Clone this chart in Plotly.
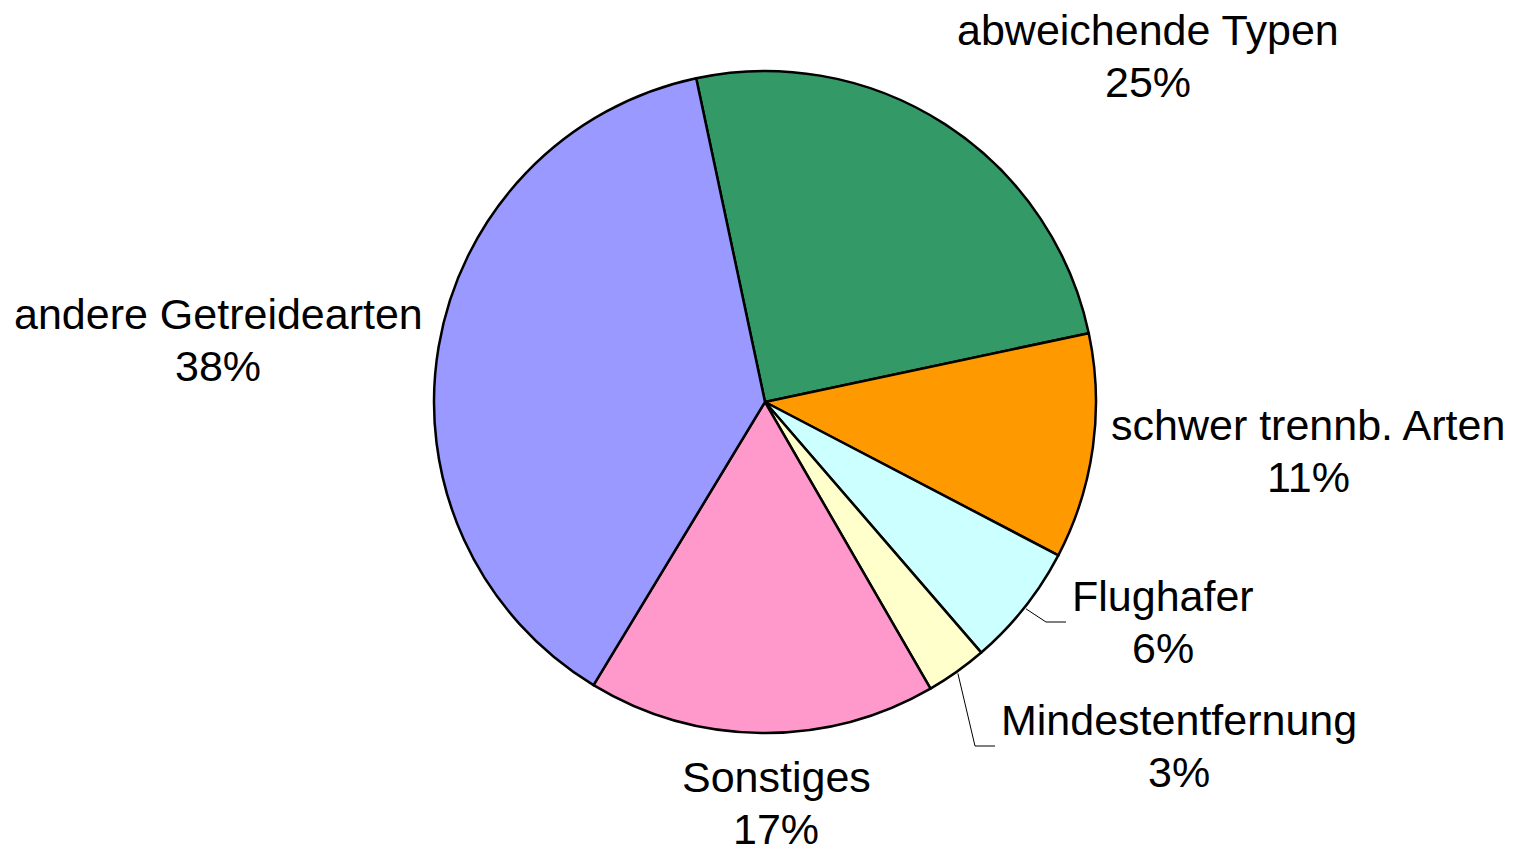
import math
import plotly.graph_objects as go

# data
labels = ["abweichende Typen", "schwer trennb. Arten", "Flughafer",
          "Mindestentfernung", "Sonstiges", "andere Getreidearten"]
values = [25, 11, 6, 3, 17, 38]
colors = ["#339966", "#FF9900", "#CCFFFF", "#FFFFCC", "#FF99CC", "#9999FF"]

W, H = 1518, 847
OFF = 8  # default page margin around the plot div
CX, CY, R = 765, 402, 331
ROT = -12  # first slice starts 12 deg left of 12 o'clock
LINE_GAP = 52

# label block centres (pixels) and optional leader end x
label_pos = {
    "abweichende Typen": (1148, 56, None),
    "schwer trennb. Arten": (1308, 451, None),
    "Flughafer": (1163, 622, 1066),
    "Mindestentfernung": (1179, 746, 995),
    "Sonstiges": (776, 803, None),
    "andere Getreidearten": (218, 340, None),
}

FW, FH = W - 2 * OFF, H - OFF


def px(x):
    return (x - OFF) / FW


def py(y):
    return 1 - (y - OFF) / FH


fig = go.Figure()
fig.add_trace(go.Pie(labels=labels, values=values, sort=False, direction="clockwise",
                     rotation=ROT, textinfo="none", hoverinfo="label+percent",
                     marker=dict(colors=colors, line=dict(color="black", width=2.5)),
                     domain=dict(x=[px(CX - R), px(CX + R)], y=[py(CY + R), py(CY - R)]),
                     showlegend=False))

total = sum(values)
cum = 0
annotations, shapes = [], []
for lab, v in zip(labels, values):
    mid = ROT + (cum + v / 2) / total * 360
    cum += v
    lx, ly, lend = label_pos[lab]
    for txt, dy in ((lab, -LINE_GAP / 2), (f"{v / total * 100:.0f}%", LINE_GAP / 2)):
        annotations.append(dict(x=px(lx), y=py(ly + dy), xref="paper", yref="paper",
                                xanchor="center", yanchor="middle", showarrow=False,
                                text=txt, font=dict(size=43, color="black")))
    if lend is not None:
        a = math.radians(mid)
        sx, sy = CX + (R + 2) * math.sin(a), CY - (R + 2) * math.cos(a)
        path = (f"M {px(sx)} {py(sy)} L {px(lend - 20)} {py(ly)} "
                f"L {px(lend)} {py(ly)}")
        shapes.append(dict(type="path", path=path, xref="paper", yref="paper",
                           line=dict(color="black", width=1)))

fig.update_layout(width=FW, height=FH, margin=dict(l=0, r=0, t=0, b=0),
                  paper_bgcolor="white", plot_bgcolor="white",
                  font=dict(family="Liberation Sans, Arial, sans-serif"),
                  annotations=annotations, shapes=shapes)

fig.write_html("out.html")
